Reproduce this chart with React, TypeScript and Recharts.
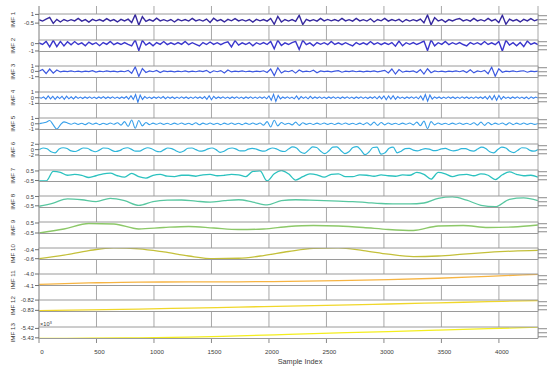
import { LineChart, Line, XAxis, YAxis, CartesianGrid } from 'recharts'

// Stacked IMF plot (EMD decomposition), one thin panel per mode

const X_MAX = 4340
const xTicks = [0, 500, 1000, 1500, 2000, 2500, 3000, 3500, 4000]
const xEdges = [{ x: 0 }, { x: X_MAX }]

// values, one list per mode, taken at a fixed sample step
const imf1 = [
  0.1, -0.15, 0.18, 0.5, -0.55, 0.15, -0.3, 0.12, -0.14, 0.1,
  -0.12, 0.3, -0.15, 0.1, -0.32, 0.14, -0.1, 0.12, -0.15, 0.28,
  -0.12, 0.1, -0.3, 0.15, -0.12, 0.18, -0.4, 0.95, -0.85, 0.6,
  -0.2, 0.12, -0.15, 0.35, -0.12, 0.1, -0.14, 0.12, -0.3, 0.15,
  -0.1, 0.12, -0.14, 0.32, -0.12, 0.1, -0.15, 0.2, -0.4, 0.35,
  -0.12, 0.1, -0.3, 0.14, -0.1, 0.28, -0.12, 0.1, -0.15, 0.12,
  -0.32, 0.14, -0.1, 0.12, -0.15, 0.3, -0.7, 0.65, -0.3, 0.12,
  -0.14, 0.1, -0.2, 0.85, -0.75, 0.15, -0.12, 0.1, -0.15, 0.3,
  -0.12, 0.14, -0.1, 0.12, -0.14, 0.32, -0.12, 0.1, -0.15, 0.3,
  -0.12, 0.1, -0.14, 0.25, -0.3, 0.12, -0.1, 0.3, -0.15, 0.12,
  -0.1, 0.14, -0.3, 0.12, -0.15, 0.1, -0.12, 0.2, -0.45, 0.9,
  -0.8, 0.45, -0.14, 0.12, -0.32, 0.1, -0.12, 0.14, 0.3, -0.12,
  0.1, -0.15, 0.3, -0.12, 0.1, -0.14, 0.32, -0.12, 0.15, -0.4,
  0.85, -0.7, 0.2, -0.12, 0.1, -0.3, 0.14, -0.12, 0.28, -0.1, 0.12,
]
const imf2 = [
  0.1, -0.12, 0.3, -0.45, 0.45, -0.4, 0.3, -0.32, 0.25, -0.15,
  0.28, -0.12, 0.1, -0.3, 0.2, -0.1, 0.12, -0.28, 0.14, -0.1,
  0.3, -0.15, 0.1, -0.12, 0.14, -0.1, -0.3, 0.5, -0.95, 0.45,
  -0.2, 0.12, -0.3, 0.15, -0.1, 0.28, -0.14, 0.1, -0.12, 0.14,
  -0.1, 0.3, -0.14, 0.12, -0.1, -0.32, 0.14, -0.12, 0.22, -0.1,
  0.12, -0.15, 0.1, 0.25, -0.45, 0.4, -0.2, 0.1, -0.12, 0.14,
  -0.3, 0.12, -0.1, 0.14, -0.12, 0.3, -0.7, 0.45, -0.25, 0.1,
  -0.12, 0.14, 0.3, -0.8, 0.45, -0.15, 0.1, -0.3, 0.14, -0.1,
  0.12, -0.14, 0.3, -0.12, 0.1, -0.14, 0.12, -0.1, -0.3, 0.14,
  -0.12, 0.1, -0.14, 0.28, -0.1, 0.12, -0.15, 0.1, -0.12, 0.14,
  -0.35, 0.35, -0.3, 0.12, -0.1, 0.14, -0.12, 0.1, 0.35, -0.95,
  0.5, -0.3, 0.12, -0.1, 0.3, -0.14, 0.12, -0.1, 0.14, -0.12,
  -0.3, 0.14, -0.1, 0.12, -0.14, 0.28, -0.12, 0.1, -0.15, 0.3,
  -1.0, 0.45, -0.2, 0.12, -0.3, 0.14, -0.4, 0.35, -0.12, 0.1, -0.14,
]
const imf3 = [
  0.05, 0.35, -0.4, 0.45, -0.35, 0.25, -0.1, 0.06, -0.05, 0.08,
  -0.06, 0.05, -0.08, 0.06, -0.05, 0.15, -0.12, 0.05, -0.06, 0.08,
  -0.05, 0.06, -0.08, 0.05, -0.06, 0.2, -0.35, 0.85, -0.95, 0.55,
  -0.2, 0.08, -0.06, 0.18, -0.2, 0.08, -0.05, 0.06, -0.08, 0.05,
  -0.06, 0.1, -0.08, 0.05, -0.06, 0.08, -0.05, 0.2, -0.25, 0.12,
  -0.06, 0.15, -0.3, 0.28, -0.1, 0.06, -0.05, 0.08, -0.06, 0.05,
  -0.08, 0.06, -0.05, 0.12, -0.2, 0.45, -0.8, 0.7, -0.3, 0.1,
  -0.06, 0.2, -0.32, 0.25, -0.08, 0.05, -0.06, 0.22, -0.25, 0.08,
  -0.05, 0.06, -0.08, 0.05, 0.15, -0.15, 0.06, -0.05, 0.08, -0.06,
  0.05, -0.08, 0.06, -0.05, 0.1, -0.08, 0.05, 0.2, -0.3, 0.45,
  -0.5, 0.35, -0.15, 0.06, -0.05, 0.08, -0.2, 0.35, -0.5, 0.5,
  -0.25, 0.08, -0.06, 0.05, -0.08, 0.06, -0.05, 0.08, -0.06, 0.15,
  -0.2, 0.3, -0.28, 0.1, -0.06, 0.2, -0.45, 0.8, -0.9, 0.5,
  -0.15, 0.06, -0.05, 0.08, -0.06, 0.05, 0.12, -0.15, 0.06, -0.05, 0.04,
]
const imf4 = [
  0.05, -0.1, 0.15, -0.25, 0.3, -0.2, 0.25, -0.3, 0.2, -0.15,
  0.25, -0.3, 0.28, -0.2, 0.15, -0.22, 0.2, -0.12, 0.1, -0.15,
  0.12, -0.1, 0.15, -0.12, 0.1, -0.14, 0.12, -0.1, 0.18, -0.15,
  0.12, -0.1, 0.14, -0.12, 0.1, -0.15, 0.12, -0.1, 0.2, -0.25,
  0.35, -0.3, 0.55, -0.8, 0.45, -0.3, 0.2, -0.12, 0.1, -0.14,
  0.12, -0.1, 0.15, -0.12, 0.2, -0.18, 0.15, -0.1, 0.12, -0.14,
  0.1, -0.12, 0.15, -0.1, 0.12, -0.14, 0.1, -0.12, 0.14, -0.1,
  0.12, -0.15, 0.2, -0.3, 0.35, -0.35, 0.25, -0.15, 0.12, -0.1,
  0.14, -0.12, 0.1, -0.15, 0.12, -0.1, 0.14, -0.12, 0.1, -0.14,
  0.12, -0.1, 0.15, -0.12, 0.1, -0.12, 0.14, -0.1, 0.15, -0.2,
  0.3, -0.45, 0.6, -0.65, 0.4, -0.2, 0.12, -0.1, 0.14, -0.12,
  0.1, -0.2, 0.3, -0.3, 0.2, -0.12, 0.15, -0.2, 0.25, -0.15,
  0.12, -0.1, 0.14, -0.12, 0.1, -0.14, 0.12, -0.1, 0.15, -0.12,
  0.1, -0.14, 0.12, -0.1, 0.14, -0.12, 0.1, -0.15, 0.12, -0.1,
  0.14, -0.12, 0.1, -0.15, 0.12, -0.1, 0.18, -0.2, 0.25, -0.2,
  0.3, -0.35, 0.3, -0.25, 0.35, -0.3, 0.2, -0.12, 0.1, -0.14,
  0.12, -0.1, 0.14, -0.12, 0.15, -0.2, 0.3, -0.4, 0.55, -0.6,
  0.45, -0.25, 0.15, -0.1, 0.12, -0.14, 0.1, -0.12, 0.14, -0.1,
  0.12, -0.15, 0.1, -0.12, 0.14, -0.1, 0.12, -0.14, 0.1, -0.12,
  0.15, -0.1, 0.12, -0.14, 0.2, -0.25, 0.3, -0.35, 0.4, -0.45,
  0.4, -0.3, 0.2, -0.12, 0.1, -0.14, 0.12, -0.1, 0.15, -0.12,
  0.1, -0.14, 0.12, -0.2, 0.15, -0.1, 0.12, -0.05,
]
const imf5 = [
  0.0, 0.15, 0.3, 0.6, -0.2, -1.0, -0.2, 0.35, 0.15, -0.1,
  0.15, -0.12, 0.1, -0.15, 0.18, -0.1, 0.12, -0.15, 0.1, -0.12,
  0.15, -0.1, 0.2, -0.25, 0.4, -0.5, 0.7, -0.85, 0.6, -0.4,
  0.25, -0.15, 0.12, -0.1, 0.15, -0.12, 0.1, -0.14, 0.12, -0.1,
  0.15, -0.12, 0.1, -0.15, 0.2, -0.18, 0.12, -0.1, 0.14, -0.12,
  0.1, -0.15, 0.12, -0.1, 0.14, -0.12, 0.1, -0.15, 0.12, -0.1,
  0.14, -0.12, 0.15, -0.25, 0.4, -0.6, 0.65, -0.4, 0.25, -0.12,
  0.1, -0.2, 0.3, -0.3, 0.2, -0.12, 0.1, -0.14, 0.12, -0.1,
  0.15, -0.12, 0.1, -0.14, 0.12, -0.1, 0.15, -0.12, 0.1, -0.14,
  0.12, -0.15, 0.2, -0.25, 0.3, -0.3, 0.25, -0.2, 0.15, -0.12,
  0.1, -0.14, 0.12, -0.1, 0.15, -0.2, 0.3, -0.35, 0.5, -0.9,
  0.4, -0.2, 0.15, -0.12, 0.1, -0.14, 0.12, -0.1, 0.15, -0.12,
  0.1, -0.14, 0.2, -0.25, 0.3, -0.3, 0.25, -0.15, 0.12, -0.1,
  0.15, -0.2, 0.2, -0.15, 0.12, -0.1, 0.14, -0.12, 0.1, -0.12, 0.05,
]
const imf6 = [
  0.0, 0.6, 0.3, -0.8, -1.2, 0.2, 0.7, 0.4, -0.5, -0.7,
  -0.1, 0.6, 0.5, -0.3, -0.8, -0.2, 0.6, 0.5, -0.2, -0.7,
  -0.4, 0.4, 0.7, 0.1, -0.6, -0.6, 0.2, 0.7, 0.3, -0.5,
  -0.8, -0.1, 0.6, 0.4, -0.4, -1.0, -0.5, 0.5, 0.6, 0.0,
  -0.6, -0.4, 0.3, 0.6, 0.0, -1.0, -0.6, 0.3, 0.6, 0.2,
  -0.5, -0.5, 0.2, 0.5, 0.2, -0.4, -0.6, 0.1, 0.6, 0.3,
  -0.5, -0.7, 0.2, 1.0, 0.6, -0.9, -1.4, -0.2, 1.0, 0.8,
  -0.6, -1.5, -0.5, 0.9, 1.0, -0.3, -1.5, -0.8, 0.8, 1.1,
  -0.2, -1.9, -0.9, 0.8, 0.9, -1.7, -1.2, 0.5, 0.9, -1.2,
  -0.6, 0.4, 0.5, -0.2, -0.5, 0.0, 0.4, 0.2, -0.4, -0.3,
  0.3, 0.5, -0.1, -0.5, -0.2, 0.4, 0.4, -0.3, -0.6, 0.2,
  0.9, 0.4, -0.8, -1.2, 0.0, 0.9, 0.6, -0.6, -1.1, -0.2,
  0.7, 0.6, -0.3, -0.6, 0.0,
]
const imf7 = [
  -0.55, -0.55, 0.45, 0.35, 0.05, 0.15, 0.05, -0.18, 0.0, 0.2,
  0.27, 0.0, -0.15, 0.25, -0.1, -0.25, 0.05, 0.15, -0.05, -0.1,
  0.05, 0.05, -0.05, 0.1, 0.15, 0.0, 0.05, 0.15, 0.1, -0.1,
  0.45, 0.5, -0.55, 0.2, 0.55, 0.2, -0.45, -0.1, 0.2, 0.1,
  -0.15, 0.15, 0.2, -0.1, -0.1, 0.1, 0.05, -0.05, 0.1, 0.0,
  -0.05, 0.1, 0.05, 0.35, 0.15, -0.35, 0.35, 0.2, -0.1, 0.1,
  0.15, 0.0, 0.2, 0.05, -0.4, 0.1, 0.4, 0.15, 0.0, 0.05, -0.15,
]
const imf8 = [
  -0.55, -0.2, 0.25, 0.15, -0.05, 0.3, 0.05, -0.45, -0.05, 0.1,
  0.12, 0.0, -0.1, 0.05, 0.15, -0.1, -0.4, 0.05, 0.15, 0.1,
  0.05, 0.0, -0.05, -0.15, -0.25, -0.3, -0.3, -0.2, 0.3, 0.45,
  0.1, -0.45, -0.6, 0.2, 0.35, 0.05,
]
const imf9 = [
  -0.5, -0.1, 0.45, 0.4, -0.1, 0.05, 0.15, 0.0, -0.15, -0.1,
  0.15, 0.25, 0.2, 0.05, -0.15, -0.25, 0.2, 0.25, 0.05, 0.1, 0.3,
]
const imf10 = [
  -0.6, -0.52, -0.42, -0.36, -0.38, -0.45, -0.54, -0.6, -0.59, -0.53,
  -0.44, -0.37, -0.36, -0.42, -0.5, -0.555, -0.54, -0.5, -0.46, -0.43, -0.415,
]
const imf11 = [-4.09, -4.078, -4.07, -4.069, -4.068, -4.064, -4.058, -4.049, -4.037, -4.02, -4.002]
const imf12 = [-0.8302, -0.8295, -0.8287, -0.8278, -0.8268, -0.8258, -0.8248, -0.8238, -0.8227, -0.8215, -0.8204]
const imf13 = [-5.4306, -5.4304, -5.43, -5.4293, -5.4279, -5.4264, -5.4248, -5.4233, -5.4218, -5.4202, -5.4187]

const FONT = '"Liberation Sans", Arial, Helvetica, sans-serif'
const TEXT = '#3c3c3c'
const GRID = '#a8a8a8'
const BORDER = '#9a9a9a'

const BOX_H = 11.5
const MT = 8
const MB = 6

interface PanelCfg {
  name: string
  values: number[]
  step: number
  domain: [number, number]
  ticks: number[]
  digits?: number
  color: string
  curve: 'linear' | 'monotone'
  width: number
  exp?: boolean
}

const panels: PanelCfg[] = [
  { name: 'IMF 1', values: imf1, step: 31, domain: [-0.91, 1.07], ticks: [-0.5, 1], color: '#35289f', curve: 'linear', width: 1.4 },
  { name: 'IMF 2', values: imf2, step: 31, domain: [-1.07, 0.49], ticks: [-1, 0], color: '#3a36cc', curve: 'linear', width: 1.4 },
  { name: 'IMF 3', values: imf3, step: 31, domain: [-1.15, 1.02], ticks: [-1, 0, 1], color: '#3c58e0', curve: 'linear', width: 1.2 },
  { name: 'IMF 4', values: imf4, step: 20, domain: [-1.02, 1.0], ticks: [-1, 0, 1], color: '#3882ec', curve: 'linear', width: 1.1 },
  { name: 'IMF 5', values: imf5, step: 31, domain: [-1.07, 1.08], ticks: [-1, 0, 1], color: '#38a0ea', curve: 'monotone', width: 1.1 },
  { name: 'IMF 6', values: imf6, step: 35, domain: [-2.2, 2.1], ticks: [-2, 0, 2], color: '#2db6da', curve: 'monotone', width: 1.2 },
  { name: 'IMF 7', values: imf7, step: 62, domain: [-0.6, 0.6], ticks: [-0.5, 0.5], color: '#2cc2bf', curve: 'monotone', width: 1.3 },
  { name: 'IMF 8', values: imf8, step: 124, domain: [-0.68, 0.55], ticks: [-0.5, 0.5], color: '#58c7a0', curve: 'monotone', width: 1.3 },
  { name: 'IMF 9', values: imf9, step: 217, domain: [-0.55, 0.6], ticks: [-0.5, 0.5], color: '#8cc868', curve: 'monotone', width: 1.3 },
  { name: 'IMF 10', values: imf10, step: 217, domain: [-0.618, -0.362], ticks: [-0.6, -0.4], digits: 1, color: '#c4c03a', curve: 'monotone', width: 1.3 },
  { name: 'IMF 11', values: imf11, step: 434, domain: [-4.1, -4.0], ticks: [-4.1, -4.0], digits: 1, color: '#f6b443', curve: 'monotone', width: 1.3 },
  { name: 'IMF 12', values: imf12, step: 434, domain: [-0.8311, -0.8199], ticks: [-0.83, -0.82], digits: 2, color: '#f0d72a', curve: 'monotone', width: 1.3 },
  { name: 'IMF 13', values: imf13, step: 434, domain: [-5.4307, -5.4185], ticks: [-5.43, -5.42], digits: 2, color: '#f4ee1e', curve: 'monotone', width: 1.3, exp: true },
]

function Panel({ cfg, index }: { cfg: PanelCfg; index: number }) {
  const data = cfg.values.map((v, i) => ({ x: i * cfg.step, y: v }))
  const [lo, hi] = cfg.domain
  const r = hi - lo
  const rightTicks = [lo + 0.15 * r, lo + 0.5 * r, hi - 0.15 * r]
  const boxTop = 13.6 + 26.08 * index
  const h = MT + BOX_H + MB
  const fmt = (v: number) => (cfg.digits != null ? v.toFixed(cfg.digits) : String(v))
  const cy = MT + BOX_H / 2

  const nameLabel = () => (
    <text
      x={12}
      y={cy}
      transform={`rotate(-90 12 ${cy})`}
      textAnchor="middle"
      dominantBaseline="central"
      fontSize={6.2}
      fill={TEXT}
      fontFamily={FONT}
    >
      {cfg.name}
    </text>
  )

  const expLabel = () => (
    <text x={40} y={MT - 1.2} fontSize={5.6} fill={TEXT} fontFamily={FONT}>
      ×10<tspan dy={-2} fontSize={4.2}>3</tspan>
    </text>
  )

  return (
    <div style={{ position: 'absolute', left: 0, top: boxTop - MT, width: 550, height: h }}>
      <LineChart width={550} height={h} data={data} margin={{ top: MT - 1, right: 0, bottom: MB - 1, left: 0 }}>
        <CartesianGrid fill="#ffffff" horizontal={false} vertical={false} />
        <XAxis
          xAxisId="b"
          type="number"
          dataKey="x"
          domain={[0, X_MAX]}
          allowDataOverflow
          height={1}
          tick={false}
          tickLine={false}
          axisLine={{ stroke: BORDER }}
        />
        <XAxis
          xAxisId="t"
          orientation="top"
          type="number"
          dataKey="x"
          domain={[0, X_MAX]}
          allowDataOverflow
          height={1}
          tick={false}
          tickLine={false}
          axisLine={{ stroke: BORDER }}
          label={cfg.exp ? expLabel : undefined}
        />
        <YAxis
          yAxisId="l"
          type="number"
          domain={cfg.domain}
          allowDataOverflow
          ticks={cfg.ticks}
          interval={0}
          width={39}
          tickSize={4}
          tickMargin={1}
          tick={{ fontSize: 5.8, fill: TEXT, fontFamily: FONT }}
          tickFormatter={fmt}
          axisLine={{ stroke: BORDER }}
          tickLine={{ stroke: '#707070' }}
          label={nameLabel}
        />
        <YAxis
          yAxisId="r"
          orientation="right"
          type="number"
          domain={cfg.domain}
          allowDataOverflow
          ticks={rightTicks}
          interval={0}
          width={12}
          tickSize={9}
          tickFormatter={() => ''}
          axisLine={{ stroke: BORDER }}
          tickLine={{ stroke: '#8a8a8a' }}
        />
        <Line
          xAxisId="b"
          yAxisId="l"
          type={cfg.curve}
          dataKey="y"
          stroke={cfg.color}
          strokeWidth={cfg.width}
          dot={false}
          isAnimationActive={false}
        />
      </LineChart>
    </div>
  )
}

export default function App() {
  const sampleLabel = () => (
    <text x={300} y={363.5} textAnchor="middle" fontSize={7.3} fill={TEXT} fontFamily={FONT}>
      Sample Index
    </text>
  )

  return (
    <div
      style={{
        position: 'fixed',
        left: 0,
        top: 0,
        width: 550,
        height: 370,
        background: '#ffffff',
        fontFamily: FONT,
      }}
    >
      <div style={{ position: 'absolute', left: 0, top: 0 }}>
        <LineChart width={550} height={370} data={xEdges} margin={{ top: 6, right: 12, bottom: 0, left: 38 }}>
          <CartesianGrid horizontal={false} stroke={GRID} />
          <XAxis
            type="number"
            dataKey="x"
            domain={[0, X_MAX]}
            ticks={xTicks}
            interval={0}
            height={32}
            tickSize={5}
            tickMargin={7}
            tick={{ fontSize: 6.2, fill: TEXT, fontFamily: FONT, dx: 3 }}
            axisLine={{ stroke: BORDER }}
            tickLine={{ stroke: '#8a8a8a' }}
            label={sampleLabel}
          />
          <YAxis width={1} domain={[0, 1]} tick={false} tickLine={false} axisLine={{ stroke: GRID }} />
        </LineChart>
      </div>
      {panels.map((p, i) => (
        <Panel key={p.name} cfg={p} index={i} />
      ))}
    </div>
  )
}
